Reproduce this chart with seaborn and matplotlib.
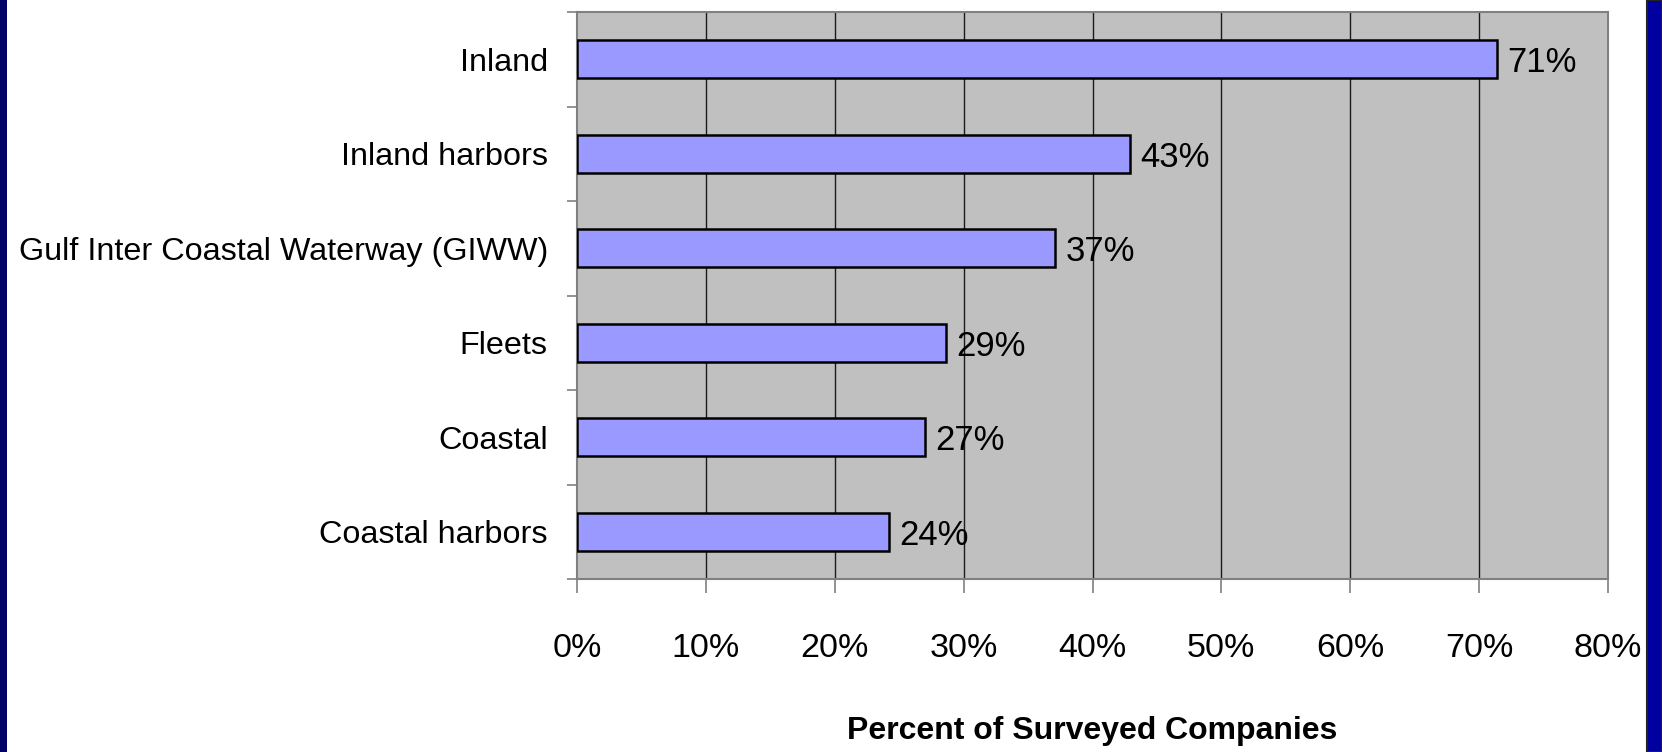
import matplotlib
matplotlib.use("Agg")
import matplotlib.pyplot as plt
import matplotlib.patches as mpatches
from matplotlib.ticker import FixedLocator, PercentFormatter
import seaborn as sns
import pandas as pd

# data
categories = ["Inland", "Inland harbors", "Gulf Inter Coastal Waterway (GIWW)",
              "Fleets", "Coastal", "Coastal harbors"]
values = [71.4, 42.9, 37.1, 28.6, 27.0, 24.2]
value_labels = ["71%", "43%", "37%", "29%", "27%", "24%"]
x_ticks = [0, 10, 20, 30, 40, 50, 60, 70, 80]

df = pd.DataFrame({"site": categories, "pct": values})

sns.set_theme(style="white")
plt.rcParams["font.family"] = ["Liberation Sans", "DejaVu Sans"]
plt.rcParams["text.color"] = "black"
plt.rcParams["axes.labelcolor"] = "black"
plt.rcParams["xtick.labelcolor"] = "black"
plt.rcParams["ytick.labelcolor"] = "black"

fig = plt.figure(figsize=(16.62, 7.52), dpi=100)
fig.patch.set_facecolor("white")

# slide border strips
fig.patches.append(mpatches.Rectangle((0, 0), 7 / 1662, 1, transform=fig.transFigure,
                                      facecolor="#000066", edgecolor="none"))
fig.patches.append(mpatches.Rectangle((1647 / 1662, 0), 15 / 1662, 1, transform=fig.transFigure,
                                      facecolor="#0000A0", edgecolor="#222222", linewidth=1.5))

ax = fig.add_axes([577 / 1662, 1 - 579 / 752, (1608 - 577) / 1662, (579 - 12) / 752])
ax.set_facecolor("#C0C0C0")

sns.barplot(data=df, x="pct", y="site", orient="h", color="#9999FF",
            edgecolor="black", linewidth=1.8, width=0.40, saturation=1, ax=ax, zorder=3)

ax.set_xlim(0, 80)
ax.set_ylim(len(categories) - 0.5, -0.5)
ax.xaxis.set_major_locator(FixedLocator(x_ticks))
ax.xaxis.set_major_formatter(PercentFormatter(decimals=0))
for xv in x_ticks[1:-1]:
    ax.axvline(xv, color="#1a1a1a", linewidth=1.0, zorder=1)

for i, (v, lab) in enumerate(zip(values, value_labels)):
    ax.text(v + 0.8, i, lab, va="center_baseline", ha="left", fontsize=25, color="black", zorder=5)

for s in ax.spines.values():
    s.set_color("#808080")
    s.set_linewidth(1.5)
    s.set_visible(True)

ax.tick_params(axis="x", which="major", direction="out", length=10, width=1.2,
               color="#808080", labelsize=24.5, pad=29, bottom=True)
ax.tick_params(axis="y", which="major", length=0, labelsize=23.3, pad=21)
ax.set_yticks([i - 0.5 for i in range(len(categories) + 1)], minor=True)
ax.tick_params(axis="y", which="minor", direction="out", length=7.5, width=1.2,
               color="#808080", left=True)

ax.set_ylabel("")
ax.set_xlabel("Percent of Surveyed Companies", fontsize=23, fontweight="bold", labelpad=37)

fig.savefig("out.png", dpi=100, facecolor=fig.get_facecolor())
